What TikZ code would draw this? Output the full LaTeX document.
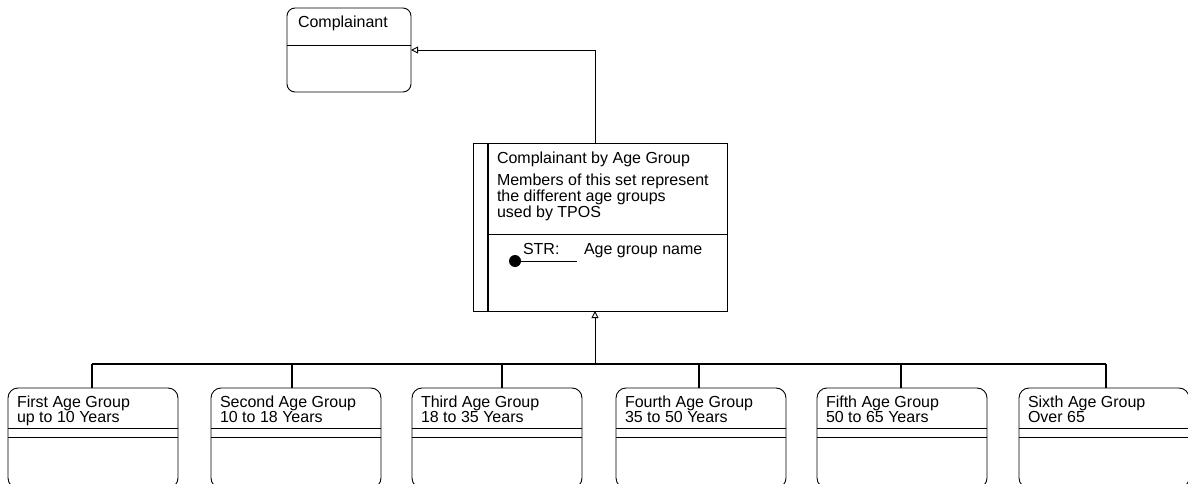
\documentclass[tikz,border=0pt]{standalone}
\usepackage{fontspec}
\setmainfont{Liberation Sans}
\usetikzlibrary{arrows.meta}
\begin{document}
\begin{tikzpicture}[x=1pt,y=-1pt,
  line width=0.9pt,
  every node/.style={inner sep=0pt, outer sep=0pt},
  txt/.style={anchor=base west, font=\fontsize{16}{17}\selectfont},
  entity/.style={draw, rounded corners=10pt, anchor=north west},
  isa/.style={-{Triangle[open,length=7pt,width=7pt]}},
  bus/.style={line width=1.3pt},
]
\useasboundingbox (0,0) rectangle (1188,484);

% supertype
\node[entity, rounded corners=8pt, minimum width=124pt, minimum height=84pt] (comp) at (287,8) {};
\node[txt] (compname) at (298,28) {Complainant};
\draw ([yshift=-37pt]comp.north west) -- ([yshift=-37pt]comp.north east);

% set entity
\node[draw, anchor=north west, minimum width=254pt, minimum height=168pt] (set) at (473,143) {};
\draw[line width=2pt] ([xshift=15pt]set.north west) -- ([xshift=15pt]set.south west);
\draw ([xshift=15pt,yshift=-91pt]set.north west) -- ([yshift=-91pt]set.north east);
\node[txt] (settitle) at (497,163) {Complainant by Age Group};
\node[txt] (setdesca) at (497,185) {Members of this set represent};
\node[txt] (setdescb) at (497,201) {the different age groups};
\node[txt] (setdescc) at (497,217) {used by TPOS};
\node[circle, fill, minimum size=12pt] (key) at (515,261) {};
\coordinate (keyend) at (577,261);
\draw (key.center) -- (keyend);
\node[txt] (keytype) at (523,254) {STR:};
\node[txt] (keyname) at (584,254) {Age group name};

\draw[isa] ([xshift=-5pt]set.north) |- (comp.east);

% subtypes
\foreach \i/\x/\s/\a/\b in {1/8/92/First Age Group/up to 10 Years,
                            2/211/292/Second Age Group/10 to 18 Years,
                            3/412/502/Third Age Group/18 to 35 Years,
                            4/616/699/Fourth Age Group/35 to 50 Years,
                            5/817/901/Fifth Age Group/50 to 65 Years,
                            6/1019/1106/Sixth Age Group/Over 65}{
  \node[entity, minimum width=170pt, minimum height=100pt] (g\i) at (\x,388) {};
  \node[txt] (g\i name) at (\x+9,407) {\a};
  \node[txt] (g\i range) at (\x+9,422) {\b};
  \draw ([yshift=-40pt]g\i.north west) -- ([yshift=-40pt]g\i.north east);
  \draw ([yshift=-49pt]g\i.north west) -- ([yshift=-49pt]g\i.north east);
  \coordinate (s\i) at (\s,364);
  \draw[bus] (g\i.north -| s\i) -- (s\i);
}
\draw[bus] (s1) -- (s6);
\coordinate (hub) at (595,364);
\draw[isa] (hub) -- (set.south -| hub);
\end{tikzpicture}
\end{document}
